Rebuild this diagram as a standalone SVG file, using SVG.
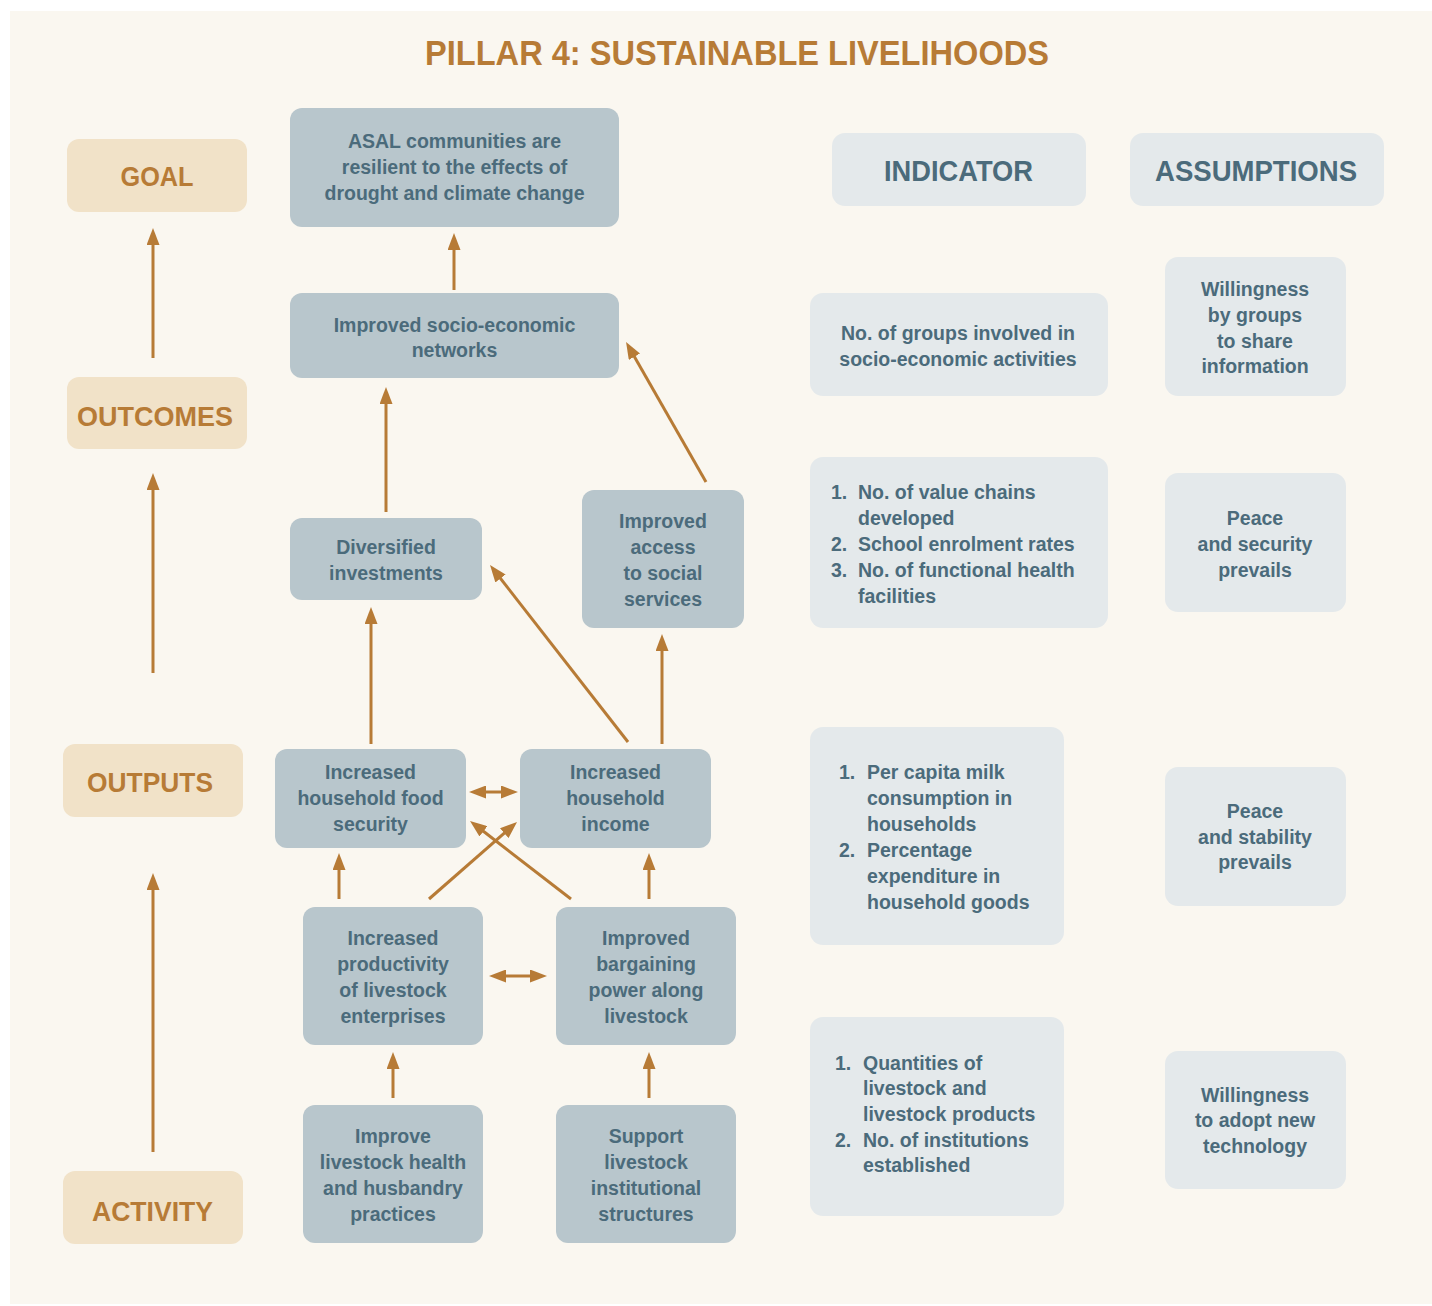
<svg xmlns="http://www.w3.org/2000/svg" width="1432" height="1306" viewBox="0 0 1432 1306">
<style>
  text { font-family: "Liberation Sans", Arial, sans-serif; font-weight: bold; }
  .lab { fill: #f1e2c8; }
  .node { fill: #b8c6cc; }
  .ind { fill: #e4e9eb; }
  .lt { font-size: 28px; fill: #b77b36; text-anchor: middle; }
  .hd { font-size: 29px; fill: #4b6b7b; text-anchor: middle; }
  .t { font-size: 19.5px; fill: #4b6b7b; text-anchor: middle; }
  .tl { font-size: 19.5px; fill: #4b6b7b; text-anchor: start; }
  .arr { stroke: #b77b36; stroke-width: 3; fill: none; marker-end: url(#ah); }
  .dbl { stroke: #b77b36; stroke-width: 3; fill: none; marker-end: url(#ah); marker-start: url(#ah); }
</style>
<defs>
  <marker id="ah" viewBox="0 0 17 13" refX="5" refY="6.5" markerWidth="17" markerHeight="13" markerUnits="userSpaceOnUse" orient="auto-start-reverse">
    <path d="M0,0 L17,6.5 L0,13 z" fill="#b77b36"/>
  </marker>
</defs>
<rect x="0" y="0" width="1432" height="1306" fill="#ffffff"/>
<rect x="10" y="11" width="1422" height="1293" fill="#faf7f0"/>
<text x="737" y="65" font-size="35" fill="#b77b36" text-anchor="middle" textLength="624" lengthAdjust="spacingAndGlyphs">PILLAR 4: SUSTAINABLE LIVELIHOODS</text>

<g id="label-goal"><rect class="lab" x="67" y="139" width="180" height="73" rx="12"/><text class="lt" x="157" y="186" textLength="73" lengthAdjust="spacingAndGlyphs">GOAL</text></g>
<g id="label-outcomes"><rect class="lab" x="67" y="377" width="180" height="72" rx="12"/><text class="lt" x="155" y="426" textLength="156" lengthAdjust="spacingAndGlyphs">OUTCOMES</text></g>
<g id="label-outputs"><rect class="lab" x="63" y="744" width="180" height="73" rx="12"/><text class="lt" x="150" y="792" textLength="126" lengthAdjust="spacingAndGlyphs">OUTPUTS</text></g>
<g id="label-activity"><rect class="lab" x="63" y="1171" width="180" height="73" rx="12"/><text class="lt" x="152.5" y="1221" textLength="121" lengthAdjust="spacingAndGlyphs">ACTIVITY</text></g>

<g id="node-goal"><rect class="node" x="290" y="108" width="329" height="119" rx="12"/>
  <text class="t" x="454.5" y="148">ASAL communities are</text>
  <text class="t" x="454.5" y="174">resilient to the effects of</text>
  <text class="t" x="454.5" y="200">drought and climate change</text></g>
<g id="node-networks"><rect class="node" x="290" y="293" width="329" height="85" rx="12"/>
  <text class="t" x="454.5" y="332">Improved socio-economic</text>
  <text class="t" x="454.5" y="357">networks</text></g>
<g id="node-diversified"><rect class="node" x="290" y="518" width="192" height="82" rx="12"/>
  <text class="t" x="386" y="554">Diversified</text>
  <text class="t" x="386" y="580">investments</text></g>
<g id="node-access"><rect class="node" x="582" y="490" width="162" height="138" rx="12"/>
  <text class="t" x="663" y="528">Improved</text>
  <text class="t" x="663" y="554">access</text>
  <text class="t" x="663" y="580">to social</text>
  <text class="t" x="663" y="606">services</text></g>
<g id="node-food"><rect class="node" x="275" y="749" width="191" height="99" rx="12"/>
  <text class="t" x="370.5" y="779">Increased</text>
  <text class="t" x="370.5" y="805">household food</text>
  <text class="t" x="370.5" y="831">security</text></g>
<g id="node-income"><rect class="node" x="520" y="749" width="191" height="99" rx="12"/>
  <text class="t" x="615.5" y="779">Increased</text>
  <text class="t" x="615.5" y="805">household</text>
  <text class="t" x="615.5" y="831">income</text></g>
<g id="node-productivity"><rect class="node" x="303" y="907" width="180" height="138" rx="12"/>
  <text class="t" x="393" y="945">Increased</text>
  <text class="t" x="393" y="971">productivity</text>
  <text class="t" x="393" y="997">of livestock</text>
  <text class="t" x="393" y="1023">enterprises</text></g>
<g id="node-bargaining"><rect class="node" x="556" y="907" width="180" height="138" rx="12"/>
  <text class="t" x="646" y="945">Improved</text>
  <text class="t" x="646" y="971">bargaining</text>
  <text class="t" x="646" y="997">power along</text>
  <text class="t" x="646" y="1023">livestock</text></g>
<g id="node-health"><rect class="node" x="303" y="1105" width="180" height="138" rx="12"/>
  <text class="t" x="393" y="1143">Improve</text>
  <text class="t" x="393" y="1169">livestock health</text>
  <text class="t" x="393" y="1195">and husbandry</text>
  <text class="t" x="393" y="1221">practices</text></g>
<g id="node-support"><rect class="node" x="556" y="1105" width="180" height="138" rx="12"/>
  <text class="t" x="646" y="1143">Support</text>
  <text class="t" x="646" y="1169">livestock</text>
  <text class="t" x="646" y="1195">institutional</text>
  <text class="t" x="646" y="1221">structures</text></g>

<g id="header-indicator"><rect class="ind" x="832" y="133" width="254" height="73" rx="13"/><text class="hd" x="958.5" y="181" textLength="149" lengthAdjust="spacingAndGlyphs">INDICATOR</text></g>
<g id="header-assumptions"><rect class="ind" x="1130" y="133" width="254" height="73" rx="13"/><text class="hd" x="1256" y="181" textLength="202" lengthAdjust="spacingAndGlyphs">ASSUMPTIONS</text></g>

<g id="indicator-1"><rect class="ind" x="810" y="293" width="298" height="103" rx="13"/>
  <text class="t" x="958" y="340">No. of groups involved in</text>
  <text class="t" x="958" y="366">socio-economic activities</text></g>
<g id="indicator-2"><rect class="ind" x="810" y="457" width="298" height="171" rx="13"/>
  <text class="tl" x="831" y="499">1.</text><text class="tl" x="858" y="499">No. of value chains</text>
  <text class="tl" x="858" y="525">developed</text>
  <text class="tl" x="831" y="551">2.</text><text class="tl" x="858" y="551">School enrolment rates</text>
  <text class="tl" x="831" y="577">3.</text><text class="tl" x="858" y="577">No. of functional health</text>
  <text class="tl" x="858" y="603">facilities</text></g>
<g id="indicator-3"><rect class="ind" x="810" y="727" width="254" height="218" rx="13"/>
  <text class="tl" x="839" y="779">1.</text><text class="tl" x="867" y="779">Per capita milk</text>
  <text class="tl" x="867" y="805">consumption in</text>
  <text class="tl" x="867" y="831">households</text>
  <text class="tl" x="839" y="857">2.</text><text class="tl" x="867" y="857">Percentage</text>
  <text class="tl" x="867" y="883">expenditure in</text>
  <text class="tl" x="867" y="909">household goods</text></g>
<g id="indicator-4"><rect class="ind" x="810" y="1017" width="254" height="199" rx="13"/>
  <text class="tl" x="835" y="1070">1.</text><text class="tl" x="863" y="1070">Quantities of</text>
  <text class="tl" x="863" y="1095">livestock and</text>
  <text class="tl" x="863" y="1121">livestock products</text>
  <text class="tl" x="835" y="1147">2.</text><text class="tl" x="863" y="1147">No. of institutions</text>
  <text class="tl" x="863" y="1172">established</text></g>

<g id="assumption-1"><rect class="ind" x="1165" y="257" width="181" height="139" rx="13"/>
  <text class="t" x="1255" y="296">Willingness</text>
  <text class="t" x="1255" y="322">by groups</text>
  <text class="t" x="1255" y="348">to share</text>
  <text class="t" x="1255" y="373">information</text></g>
<g id="assumption-2"><rect class="ind" x="1165" y="473" width="181" height="139" rx="13"/>
  <text class="t" x="1255" y="525">Peace</text>
  <text class="t" x="1255" y="551">and security</text>
  <text class="t" x="1255" y="577">prevails</text></g>
<g id="assumption-3"><rect class="ind" x="1165" y="767" width="181" height="139" rx="13"/>
  <text class="t" x="1255" y="818">Peace</text>
  <text class="t" x="1255" y="844">and stability</text>
  <text class="t" x="1255" y="869">prevails</text></g>
<g id="assumption-4"><rect class="ind" x="1165" y="1051" width="181" height="138" rx="13"/>
  <text class="t" x="1255" y="1102">Willingness</text>
  <text class="t" x="1255" y="1127">to adopt new</text>
  <text class="t" x="1255" y="1153">technology</text></g>

<g id="connectors">
  <line class="arr" x1="153" y1="358" x2="153" y2="240"/>
  <line class="arr" x1="153" y1="673" x2="153" y2="485"/>
  <line class="arr" x1="153" y1="1152" x2="153" y2="885"/>
  <line class="arr" x1="454" y1="290" x2="454" y2="245"/>
  <line class="arr" x1="386" y1="512" x2="386" y2="399"/>
  <line class="arr" x1="706" y1="482" x2="632" y2="352.4"/>
  <line class="arr" x1="371" y1="744" x2="371" y2="619"/>
  <line class="arr" x1="628" y1="742" x2="497.4" y2="574.5"/>
  <line class="arr" x1="662" y1="744" x2="662" y2="646"/>
  <line class="dbl" x1="481" y1="792" x2="506" y2="792"/>
  <line class="arr" x1="339" y1="899" x2="339" y2="865"/>
  <line class="arr" x1="649" y1="899" x2="649" y2="865"/>
  <line class="arr" x1="429" y1="899" x2="508" y2="829.9"/>
  <line class="arr" x1="571" y1="899" x2="479.5" y2="828.3"/>
  <line class="dbl" x1="501" y1="976" x2="535" y2="976"/>
  <line class="arr" x1="393" y1="1098" x2="393" y2="1064"/>
  <line class="arr" x1="649" y1="1098" x2="649" y2="1064"/>
</g>
</svg>
